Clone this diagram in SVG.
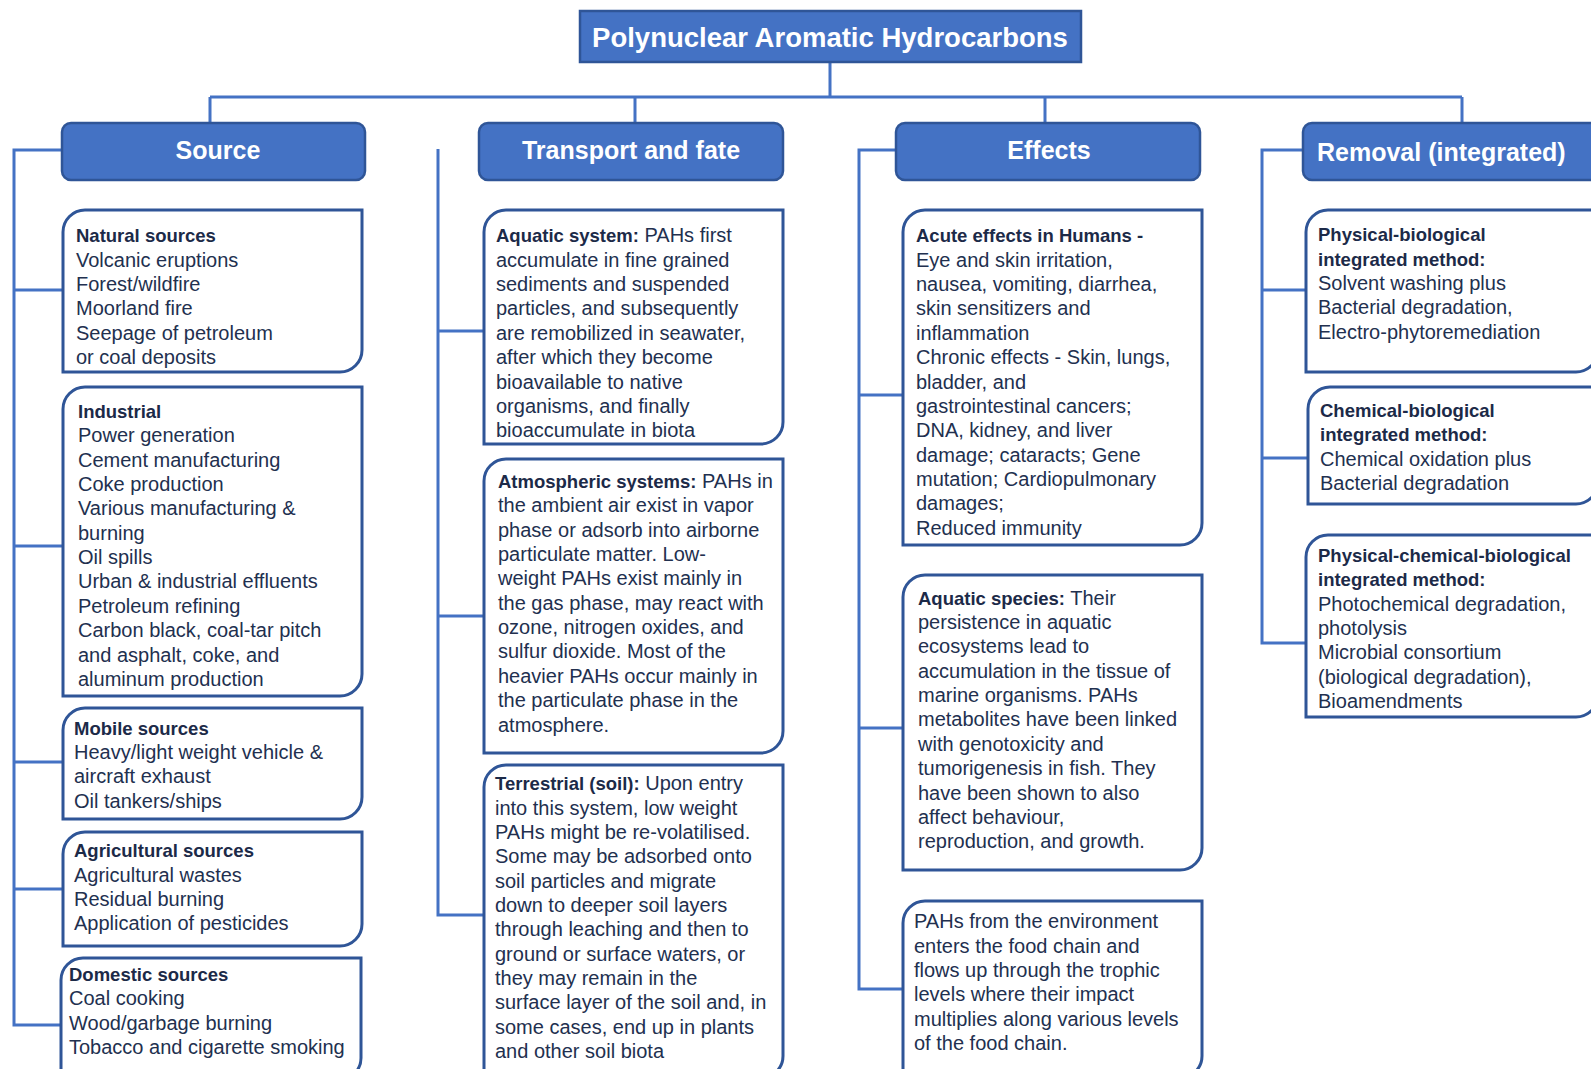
<svg xmlns="http://www.w3.org/2000/svg" width="1591" height="1069" viewBox="0 0 1591 1069">
<style>
.bg{fill:#ffffff}
.hdr{fill:#4472C4;stroke:#2F5597;stroke-width:2.5}
.ht{font-family:"Liberation Sans",Arial,sans-serif;font-weight:bold;fill:#ffffff;font-size:25px}
.box{fill:#ffffff;stroke:#2F5597;stroke-width:3}
.t{font-family:"Liberation Sans",Arial,sans-serif;font-size:20px;fill:#22304F}
.b{font-weight:bold;font-size:18.5px;fill:#1C2A48}
.con{fill:none;stroke:#4472C4;stroke-width:3}
</style>
<rect class="bg" x="0" y="0" width="1591" height="1069"/>

<g id="connectors">
<path class="con" d="M830 62 V97 M210 97 H1462 M210 97 V123 M635 97 V123 M1045 97 V123 M1462 97 V123"/>
<path class="con" d="M62 150 H14 V1025 H61 M14 290 H63 M14 546 H63 M14 762 H63 M14 889 H63"/>
<path class="con" d="M438 149 V915 H484 M438 331 H484 M438 616 H484"/>
<path class="con" d="M896 150 H859 V989 H903 M859 395 H903 M859 728 H903"/>
<path class="con" d="M1303 150 H1262 V643 H1306 M1262 290 H1306 M1262 458 H1308"/>
</g>

<g id="title">
<rect class="hdr" x="580" y="11" width="501" height="51"/>
<text class="ht" x="830" y="46.5" text-anchor="middle" style="font-size:27.5px">Polynuclear Aromatic Hydrocarbons</text>
</g>

<g id="h-source">
<rect class="hdr" x="62" y="123" width="303" height="57" rx="9"/>
<text class="ht" x="218" y="159" text-anchor="middle">Source</text>
</g>
<g id="h-transport">
<rect class="hdr" x="479" y="123" width="304" height="57" rx="9"/>
<text class="ht" x="631" y="159" text-anchor="middle">Transport and fate</text>
</g>
<g id="h-effects">
<rect class="hdr" x="896" y="123" width="304" height="57" rx="9"/>
<text class="ht" x="1049" y="159" text-anchor="middle">Effects</text>
</g>
<g id="h-removal">
<rect class="hdr" x="1303" y="123" width="310" height="57" rx="9"/>
<text class="ht" x="1317" y="161">Removal (integrated)</text>
</g>

<g id="natural">
<path class="box" d="M63 232 A22 22 0 0 1 85 210 H362 V350 A22 22 0 0 1 340 372 H63 Z"/>
<text class="t" y="242.4"><tspan x="76" class="b">Natural sources</tspan><tspan x="76" dy="24.35">Volcanic eruptions</tspan><tspan x="76" dy="24.35">Forest/wildfire</tspan><tspan x="76" dy="24.35">Moorland fire</tspan><tspan x="76" dy="24.35">Seepage of petroleum</tspan><tspan x="76" dy="24.35">or coal deposits</tspan></text>
</g>
<g id="industrial">
<path class="box" d="M63 409 A22 22 0 0 1 85 387 H362 V674 A22 22 0 0 1 340 696 H63 Z"/>
<text class="t" y="418"><tspan x="78" class="b">Industrial</tspan><tspan x="78" dy="24.35">Power generation</tspan><tspan x="78" dy="24.35">Cement manufacturing</tspan><tspan x="78" dy="24.35">Coke production</tspan><tspan x="78" dy="24.35">Various manufacturing &amp;</tspan><tspan x="78" dy="24.35">burning</tspan><tspan x="78" dy="24.35">Oil spills</tspan><tspan x="78" dy="24.35">Urban &amp; industrial effluents</tspan><tspan x="78" dy="24.35">Petroleum refining</tspan><tspan x="78" dy="24.35">Carbon black, coal-tar pitch</tspan><tspan x="78" dy="24.35">and asphalt, coke, and</tspan><tspan x="78" dy="24.35">aluminum production</tspan></text>
</g>
<g id="mobile">
<path class="box" d="M63 730 A22 22 0 0 1 85 708 H362 V797 A22 22 0 0 1 340 819 H63 Z"/>
<text class="t" y="734.5"><tspan x="74" class="b">Mobile sources</tspan><tspan x="74" dy="24.35">Heavy/light weight vehicle &amp;</tspan><tspan x="74" dy="24.35">aircraft exhaust</tspan><tspan x="74" dy="24.35">Oil tankers/ships</tspan></text>
</g>
<g id="agricultural">
<path class="box" d="M63 854 A22 22 0 0 1 85 832 H362 V924 A22 22 0 0 1 340 946 H63 Z"/>
<text class="t" y="857.3"><tspan x="74" class="b">Agricultural sources</tspan><tspan x="74" dy="24.35">Agricultural wastes</tspan><tspan x="74" dy="24.35">Residual burning</tspan><tspan x="74" dy="24.35">Application of pesticides</tspan></text>
</g>
<g id="domestic">
<path class="box" d="M61 980 A22 22 0 0 1 83 958 H361 V1058 A22 22 0 0 1 339 1080 H61 Z"/>
<text class="t" y="981"><tspan x="69" class="b">Domestic sources</tspan><tspan x="69" dy="24.35">Coal cooking</tspan><tspan x="69" dy="24.35">Wood/garbage burning</tspan><tspan x="69" dy="24.35">Tobacco and cigarette smoking</tspan></text>
</g>

<g id="aquatic-system">
<path class="box" d="M484 232 A22 22 0 0 1 506 210 H783 V422 A22 22 0 0 1 761 444 H484 Z"/>
<text class="t" y="242.4"><tspan x="496"><tspan class="b">Aquatic system:</tspan> PAHs first</tspan><tspan x="496" dy="24.35">accumulate in fine grained</tspan><tspan x="496" dy="24.35">sediments and suspended</tspan><tspan x="496" dy="24.35">particles, and subsequently</tspan><tspan x="496" dy="24.35">are remobilized in seawater,</tspan><tspan x="496" dy="24.35">after which they become</tspan><tspan x="496" dy="24.35">bioavailable to native</tspan><tspan x="496" dy="24.35">organisms, and finally</tspan><tspan x="496" dy="24.35">bioaccumulate in biota</tspan></text>
</g>
<g id="atmospheric">
<path class="box" d="M484 481 A22 22 0 0 1 506 459 H783 V731 A22 22 0 0 1 761 753 H484 Z"/>
<text class="t" y="488"><tspan x="498"><tspan class="b">Atmospheric systems:</tspan> PAHs in</tspan><tspan x="498" dy="24.35">the ambient air exist in vapor</tspan><tspan x="498" dy="24.35">phase or adsorb into airborne</tspan><tspan x="498" dy="24.35">particulate matter. Low-</tspan><tspan x="498" dy="24.35">weight PAHs exist mainly in</tspan><tspan x="498" dy="24.35">the gas phase, may react with</tspan><tspan x="498" dy="24.35">ozone, nitrogen oxides, and</tspan><tspan x="498" dy="24.35">sulfur dioxide. Most of the</tspan><tspan x="498" dy="24.35">heavier PAHs occur mainly in</tspan><tspan x="498" dy="24.35">the particulate phase in the</tspan><tspan x="498" dy="24.35">atmosphere.</tspan></text>
</g>
<g id="terrestrial">
<path class="box" d="M484 787 A22 22 0 0 1 506 765 H783 V1056 A22 22 0 0 1 761 1078 H484 Z"/>
<text class="t" y="790.3"><tspan x="495"><tspan class="b">Terrestrial (soil):</tspan> Upon entry</tspan><tspan x="495" dy="24.35">into this system, low weight</tspan><tspan x="495" dy="24.35">PAHs might be re-volatilised.</tspan><tspan x="495" dy="24.35">Some may be adsorbed onto</tspan><tspan x="495" dy="24.35">soil particles and migrate</tspan><tspan x="495" dy="24.35">down to deeper soil layers</tspan><tspan x="495" dy="24.35">through leaching and then to</tspan><tspan x="495" dy="24.35">ground or surface waters, or</tspan><tspan x="495" dy="24.35">they may remain in the</tspan><tspan x="495" dy="24.35">surface layer of the soil and, in</tspan><tspan x="495" dy="24.35">some cases, end up in plants</tspan><tspan x="495" dy="24.35">and other soil biota</tspan></text>
</g>

<g id="acute">
<path class="box" d="M903 232 A22 22 0 0 1 925 210 H1202 V523 A22 22 0 0 1 1180 545 H903 Z"/>
<text class="t" y="242.4"><tspan x="916" class="b">Acute effects in Humans -</tspan><tspan x="916" dy="24.35">Eye and skin irritation,</tspan><tspan x="916" dy="24.35">nausea, vomiting, diarrhea,</tspan><tspan x="916" dy="24.35">skin sensitizers and</tspan><tspan x="916" dy="24.35">inflammation</tspan><tspan x="916" dy="24.35">Chronic effects - Skin, lungs,</tspan><tspan x="916" dy="24.35">bladder, and</tspan><tspan x="916" dy="24.35">gastrointestinal cancers;</tspan><tspan x="916" dy="24.35">DNA, kidney, and liver</tspan><tspan x="916" dy="24.35">damage; cataracts; Gene</tspan><tspan x="916" dy="24.35">mutation; Cardiopulmonary</tspan><tspan x="916" dy="24.35">damages;</tspan><tspan x="916" dy="24.35">Reduced immunity</tspan></text>
</g>
<g id="aquatic-species">
<path class="box" d="M903 597 A22 22 0 0 1 925 575 H1202 V848 A22 22 0 0 1 1180 870 H903 Z"/>
<text class="t" y="604.7"><tspan x="918"><tspan class="b">Aquatic species:</tspan> Their</tspan><tspan x="918" dy="24.35">persistence in aquatic</tspan><tspan x="918" dy="24.35">ecosystems lead to</tspan><tspan x="918" dy="24.35">accumulation in the tissue of</tspan><tspan x="918" dy="24.35">marine organisms. PAHs</tspan><tspan x="918" dy="24.35">metabolites have been linked</tspan><tspan x="918" dy="24.35">with genotoxicity and</tspan><tspan x="918" dy="24.35">tumorigenesis in fish. They</tspan><tspan x="918" dy="24.35">have been shown to also</tspan><tspan x="918" dy="24.35">affect behaviour,</tspan><tspan x="918" dy="24.35">reproduction, and growth.</tspan></text>
</g>
<g id="food-chain">
<path class="box" d="M903 923 A22 22 0 0 1 925 901 H1202 V1056 A22 22 0 0 1 1180 1078 H903 Z"/>
<text class="t" y="928.3"><tspan x="914">PAHs from the environment</tspan><tspan x="914" dy="24.35">enters the food chain and</tspan><tspan x="914" dy="24.35">flows up through the trophic</tspan><tspan x="914" dy="24.35">levels where their impact</tspan><tspan x="914" dy="24.35">multiplies along various levels</tspan><tspan x="914" dy="24.35">of the food chain.</tspan></text>
</g>

<g id="physical-biological">
<path class="box" d="M1306 232 A22 22 0 0 1 1328 210 H1598 V350 A22 22 0 0 1 1576 372 H1306 Z"/>
<text class="t" y="241.4"><tspan x="1318" class="b">Physical-biological</tspan><tspan x="1318" dy="24.35" class="b">integrated method:</tspan><tspan x="1318" dy="24.35">Solvent washing plus</tspan><tspan x="1318" dy="24.35">Bacterial degradation,</tspan><tspan x="1318" dy="24.35">Electro-phytoremediation</tspan></text>
</g>
<g id="chemical-biological">
<path class="box" d="M1308 409 A22 22 0 0 1 1330 387 H1598 V482 A22 22 0 0 1 1576 504 H1308 Z"/>
<text class="t" y="416.9"><tspan x="1320" class="b">Chemical-biological</tspan><tspan x="1320" dy="24.35" class="b">integrated method:</tspan><tspan x="1320" dy="24.35">Chemical oxidation plus</tspan><tspan x="1320" dy="24.35">Bacterial degradation</tspan></text>
</g>
<g id="physical-chemical-biological">
<path class="box" d="M1306 557 A22 22 0 0 1 1328 535 H1598 V695 A22 22 0 0 1 1576 717 H1306 Z"/>
<text class="t" y="562"><tspan x="1318" class="b">Physical-chemical-biological</tspan><tspan x="1318" dy="24.35" class="b">integrated method:</tspan><tspan x="1318" dy="24.35">Photochemical degradation,</tspan><tspan x="1318" dy="24.35">photolysis</tspan><tspan x="1318" dy="24.35">Microbial consortium</tspan><tspan x="1318" dy="24.35">(biological degradation),</tspan><tspan x="1318" dy="24.35">Bioamendments</tspan></text>
</g>
</svg>
